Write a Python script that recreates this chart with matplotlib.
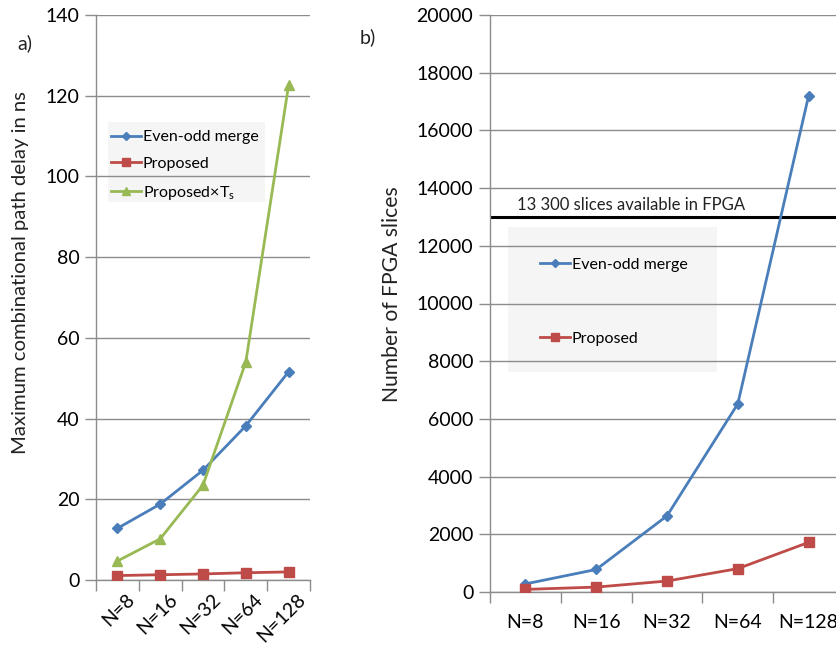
import matplotlib
matplotlib.use("Agg")
import matplotlib.pyplot as plt
from matplotlib.patches import Rectangle
from matplotlib.lines import Line2D
import matplotlib.transforms as mtransforms

plt.rcParams['font.family'] = ['Lato', 'DejaVu Sans']

# data
categories = ["N=8", "N=16", "N=32", "N=64", "N=128"]
delay_evenodd = [12.8, 18.8, 27.2, 38.2, 51.6]
delay_proposed = [1.1, 1.3, 1.5, 1.8, 2.0]
delay_proposed_ts = [4.7, 10.2, 23.5, 54.0, 122.6]
slices_evenodd = [280, 780, 2640, 6520, 17200]
slices_proposed = [90, 170, 380, 810, 1720]
fpga_limit = 13000
left_yticks = list(range(0, 141, 20))
right_yticks = list(range(0, 20001, 2000))

BLUE = "#4a7ebb"
RED = "#be4b48"
GREEN = "#98b954"
GRID = "#8c8c8c"

W, H = 837, 653
fig = plt.figure(figsize=(W / 100, H / 100), dpi=100)


def px_axes(x0, y0, x1, y1):
    # axes from pixel box (top-left origin)
    return fig.add_axes([x0 / W, 1 - y1 / H, (x1 - x0) / W, (y1 - y0) / H])


def style_axes(ax, yticks):
    x = list(range(len(categories)))
    ax.set_xlim(-0.5, len(categories) - 0.5)
    ax.set_ylim(yticks[0], yticks[-1])
    ax.set_yticks(yticks)
    ax.set_xticks(x)
    ax.set_xticks([i - 0.5 for i in range(len(categories) + 1)], minor=True)
    ax.tick_params(axis="x", which="major", length=0, labelsize=14)
    ax.tick_params(axis="x", which="minor", length=8, color=GRID, width=1)
    ax.tick_params(axis="y", length=8, color=GRID, width=1, labelsize=14, pad=4)
    ax.grid(axis="y", color=GRID, linewidth=1)
    ax.set_axisbelow(True)
    for s in ["top", "right"]:
        ax.spines[s].set_visible(False)
    for s in ["left", "bottom"]:
        ax.spines[s].set_color(GRID)
        ax.spines[s].set_linewidth(1)
    return x


# ---- a) delay ----
ax1 = px_axes(96, 15, 310, 580)
x = style_axes(ax1, left_yticks)
ax1.add_patch(Rectangle((0.056, 0.669), 0.734, 0.142, transform=ax1.transAxes,
                        facecolor="#f5f5f5", edgecolor="none", zorder=0.2))
ax1.plot(x, delay_evenodd, color=BLUE, lw=2, marker="D", ms=5, zorder=3)
ax1.plot(x, delay_proposed, color=RED, lw=2, marker="s", ms=7, zorder=3)
ax1.plot(x, delay_proposed_ts, color=GREEN, lw=2, marker="^", ms=7, zorder=3)
ax1.set_xticklabels(categories, rotation=45, ha="right", va="top", rotation_mode="anchor")
offs = mtransforms.ScaledTranslation(6 / 72, -4 / 72, fig.dpi_scale_trans)
for lab in ax1.get_xticklabels():
    lab.set_transform(lab.get_transform() + offs)

handles1 = [
    Line2D([], [], color=BLUE, lw=2, marker="D", ms=4),
    Line2D([], [], color=RED, lw=2, marker="s", ms=6),
    Line2D([], [], color=GREEN, lw=2, marker="^", ms=6),
]
ax1.legend(handles1, ["Even-odd merge", "Proposed", "Proposed×T$_\\mathregular{s}$"],
           loc="upper left", bbox_to_anchor=(0.07, 0.796), frameon=False,
           fontsize=11.5, handlelength=1.9, handletextpad=0.1, labelspacing=0.78,
           borderpad=0, borderaxespad=0)

fig.text(25 / W, 1 - 43 / H, "a)", fontsize=14, ha="center", va="center", color="#222222")
fig.text(21 / W, 1 - 273 / H, "Maximum combinational path delay in ns", rotation=90,
         fontsize=14.6, ha="center", va="center", color="#222222")

# ---- b) slices ----
ax2 = px_axes(490, 15, 844, 592)
x = style_axes(ax2, right_yticks)
ax2.tick_params(axis="x", which="major", pad=16)
ax2.add_patch(Rectangle((0.051, 0.381), 0.590, 0.251, transform=ax2.transAxes,
                        facecolor="#f5f5f5", edgecolor="none", zorder=0.2))
ax2.axhline(fpga_limit, color="black", lw=2.2, zorder=2)
ax2.plot(x, slices_evenodd, color=BLUE, lw=2, marker="D", ms=5, zorder=3)
ax2.plot(x, slices_proposed, color=RED, lw=2, marker="s", ms=7, zorder=3)
ax2.set_xticklabels(categories)

handles2 = [
    Line2D([], [], color=BLUE, lw=2, marker="D", ms=4),
    Line2D([], [], color=RED, lw=2, marker="s", ms=6),
]
ax2.legend(handles2, ["Even-odd merge", "Proposed"],
           loc="upper left", bbox_to_anchor=(0.141, 0.5795), frameon=False,
           fontsize=11.5, handlelength=1.9, handletextpad=0.1, labelspacing=3.73,
           borderpad=0, borderaxespad=0)

fig.text(517 / W, 1 - 205 / H, "13 300 slices available in FPGA", fontsize=12,
         ha="left", va="center", color="#222222")
fig.text(368 / W, 1 - 37 / H, "b)", fontsize=14, ha="center", va="center", color="#222222")
fig.text(392 / W, 1 - 294 / H, "Number of FPGA slices", rotation=90,
         fontsize=15.2, ha="center", va="center", color="#222222")

fig.savefig("out.png", dpi=100)
